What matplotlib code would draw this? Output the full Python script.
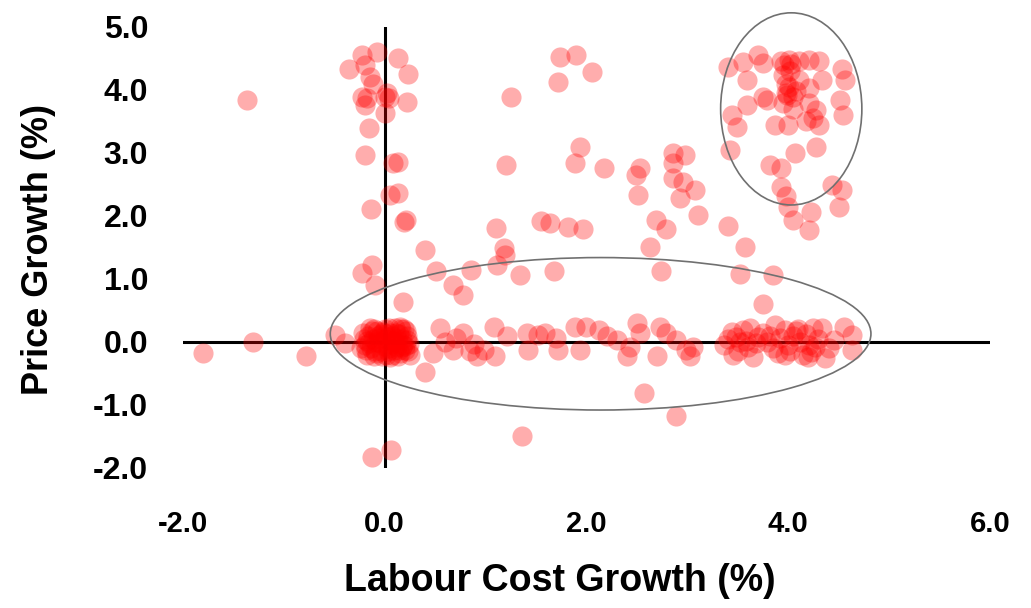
import matplotlib
matplotlib.use('Agg')
import matplotlib.pyplot as plt
from matplotlib.patches import Ellipse

# labour cost growth (x) / price growth (y)
# points along the price axis and scattered upper left
upper_x = [-1.37, -0.23, -0.08, 0.13, -0.35, -0.20, 0.23, -0.15, -0.12,
           -0.23, -0.18, 0.00, 0.04, 0.22, -0.20, 0.00, 0.02,
           -0.16, -0.20, 0.08, 0.13, 0.05, 0.13, -0.14, 0.19, 0.21, 0.40,
           -0.23, -0.13, -0.10, 0.18, 0.51, 0.68, 0.78, 0.86,
           1.11, 1.19, 1.34, 1.68, 2.63, 2.74, 3.57, 3.52, 3.85, 3.75]
upper_y = [3.84, 4.56, 4.61, 4.50, 4.33, 4.40, 4.25, 4.21, 4.10,
           3.89, 3.87, 3.89, 3.87, 3.81, 3.76, 3.63, 3.95,
           3.39, 2.97, 2.84, 2.86, 2.33, 2.37, 2.11, 1.91, 1.93, 1.46,
           1.09, 1.22, 0.90, 0.64, 1.12, 0.90, 0.75, 1.14,
           1.22, 1.38, 1.06, 1.12, 1.50, 1.12, 1.50, 1.08, 1.06, 0.60]

# negative outliers and the points left of the price axis
low_x = [0.40, -0.13, 0.06, 2.57, 2.89, 1.36, -1.80, -1.31, -0.78, -0.49, -0.39]
low_y = [-0.47, -1.82, -1.71, -0.81, -1.17, -1.49, -0.17, 0.00, -0.22, 0.11, -0.02]

# middle of the chart
mid_x = [1.74, 1.90, 2.05, 1.72, 1.25, 1.20, 1.94, 1.89, 2.17, 2.53, 2.49, 2.51,
         2.86, 2.98, 2.86, 2.86, 2.96, 3.08, 2.93, 3.11, 2.69, 2.79, 3.40,
         1.10, 1.55, 1.64, 1.82, 1.97, 1.18]
mid_y = [4.53, 4.56, 4.29, 4.13, 3.89, 2.81, 3.10, 2.84, 2.76, 2.76, 2.65, 2.33,
         3.00, 2.97, 2.84, 2.60, 2.54, 2.41, 2.28, 2.02, 1.94, 1.79, 1.84,
         1.81, 1.92, 1.89, 1.82, 1.80, 1.49]

# high labour cost / high price cluster
high_x = [3.40, 3.55, 3.70, 3.75, 3.59, 3.59, 3.75, 3.44, 3.49, 3.42, 3.82,
          3.93, 4.01, 4.11, 4.21, 4.31, 4.53, 4.56, 4.33,
          3.95, 4.01, 4.11, 3.98, 4.05, 3.95, 3.79, 4.21, 4.21, 4.28, 4.25,
          4.51, 4.54, 3.87, 4.00, 4.18, 4.31, 4.28, 4.07, 3.93, 3.93, 3.98,
          4.00, 4.05, 4.43, 4.53, 4.50, 4.23, 4.21, 3.98, 4.05,
          3.96, 4.03, 4.08, 3.99, 4.02]
high_y = [4.37, 4.45, 4.56, 4.43, 4.16, 3.76, 3.89, 3.60, 3.42, 3.05, 2.81,
          4.46, 4.47, 4.46, 4.47, 4.46, 4.34, 4.16, 4.16,
          4.24, 4.05, 4.16, 3.95, 3.89, 3.79, 3.84, 4.03, 3.79, 3.68, 3.55,
          3.84, 3.60, 3.44, 3.44, 3.50, 3.44, 3.10, 3.00, 2.76, 2.46, 2.31,
          2.15, 1.94, 2.49, 2.41, 2.15, 2.07, 1.78, 4.10, 3.70,
          4.40, 4.42, 3.98, 3.92, 4.30]

# points around zero price growth
band_x = [-0.22, -0.20, -0.18, -0.15, -0.12, -0.10, -0.08, -0.05, -0.03, 0.00,
          0.02, 0.03, 0.05, 0.07, 0.08, 0.10, 0.12, 0.14, 0.15, 0.17,
          0.19, 0.20, 0.22, 0.24, 0.25, -0.21, -0.17, -0.14, -0.11, -0.07,
          -0.04, -0.01, 0.01, 0.04, 0.06, 0.09, 0.11, 0.13, 0.16, 0.18,
          0.21, 0.23, -0.19, -0.09, 0.00,
          -0.16, -0.06, 0.03, 0.10, 0.17, -0.13, -0.02, 0.07, 0.14, 0.22,
          -0.24, -0.18, -0.09, 0.01, 0.12, 0.20, -0.11, 0.05, 0.15, -0.04,
          0.55, 0.48, 0.71, 0.68, 0.88, 0.91, 0.60, 0.78, 0.85,
          0.98, 1.08, 1.09, 1.21, 1.41, 1.42, 1.52, 1.59, 1.70, 1.72,
          1.89, 1.94, 2.00, 2.12, 2.20, 2.30, 2.40, 2.43, 2.50, 2.53,
          2.73, 2.79, 2.70, 2.89, 2.99, 3.06, 3.03,
          3.44, 3.55, 3.62, 3.87, 3.97, 4.25, 4.33, 4.55, 4.63,
          3.45, 3.65, 3.90, 3.97, 4.23, 4.36, 4.63,
          3.52, 3.79, 4.12, 4.21, 4.45, 3.40, 3.60, 3.70, 3.85,
          4.05, 4.00, 4.15, 4.30, 3.50, 3.75, 4.10, 4.40, 3.36,
          3.48, 3.68, 3.92, 4.18, 4.27, 3.58, 3.82, 4.02, 4.08, 4.20]
band_y = [0.15, -0.05, -0.20, 0.22, 0.05, -0.15, 0.18, -0.02, -0.22, 0.20,
          0.08, -0.10, 0.15, -0.20, 0.02, 0.22, -0.08, 0.12, -0.18, 0.05,
          0.20, -0.12, 0.10, -0.03, -0.20, 0.05, 0.10, -0.10, -0.23, 0.10,
          0.12, -0.06, -0.20, 0.22, -0.03, -0.13, 0.14, -0.22, 0.20, -0.04,
          0.18, -0.15, -0.12, 0.00, 0.05,
          -0.02, 0.06, -0.14, 0.00, -0.08, 0.18, 0.16, 0.10, -0.12, 0.03,
          -0.10, 0.02, -0.18, 0.12, 0.04, -0.06, 0.20, -0.24, 0.24, -0.15,
          0.22, -0.18, 0.06, -0.13, -0.03, -0.23, 0.00, 0.15, -0.15,
          -0.13, 0.24, -0.23, 0.09, 0.14, -0.13, 0.11, 0.14, 0.06, -0.13,
          0.24, -0.13, 0.24, 0.19, 0.09, 0.03, -0.23, -0.08, 0.30, 0.14,
          0.24, 0.14, -0.23, 0.03, -0.13, -0.08, -0.23,
          0.16, 0.19, 0.22, 0.27, 0.19, 0.22, 0.22, 0.24, 0.11,
          -0.21, -0.24, -0.18, -0.21, -0.16, -0.26, -0.13,
          0.00, 0.00, 0.00, -0.05, 0.03, 0.05, -0.08, 0.08, -0.10,
          0.10, -0.05, -0.20, 0.05, -0.15, 0.15, 0.20, -0.10, -0.05,
          0.08, -0.02, 0.06, 0.12, -0.08, 0.02, 0.10, -0.14, 0.18, -0.24]

xticks = [-2.0, 0.0, 2.0, 4.0, 6.0]
yticks = [-2.0, -1.0, 0.0, 1.0, 2.0, 3.0, 4.0, 5.0]

fig = plt.figure(figsize=(10.31, 6.08), dpi=100)
ax = fig.add_axes([0.1775, 0.2303, 0.7827, 0.7253])

all_x = upper_x + low_x + mid_x + high_x + band_x
all_y = upper_y + low_y + mid_y + high_y + band_y
ax.scatter(all_x, all_y, s=210, color='red', alpha=0.32, linewidths=0, zorder=3)

#  axes crossing at zero
ax.axhline(0, color='black', lw=2.2, zorder=2)
ax.axvline(0, color='black', lw=2.2, zorder=2)

#  circled groups
ax.add_patch(Ellipse((4.03, 3.70), 1.40, 3.05, fill=False, ec='#707070', lw=1.2, clip_on=False, zorder=4))
ax.add_patch(Ellipse((2.14, 0.13), 5.36, 2.42, fill=False, ec='#707070', lw=1.2, clip_on=False, zorder=4))

ax.set_xlim(-2, 6)
ax.set_ylim(-2, 5)
for s in ax.spines.values():
    s.set_visible(False)

font = ['Liberation Sans', 'DejaVu Sans']

ax.set_xticks(xticks)
ax.set_yticks(yticks)
ax.set_xticklabels(['%.1f' % v for v in xticks], family=font, fontweight='bold', fontsize=21)
ax.set_yticklabels(['%.1f' % v for v in yticks], family=font, fontweight='bold', fontsize=23)
ax.tick_params(axis='x', length=0, pad=30)
ax.tick_params(axis='y', length=0, pad=25)

fig.text(0.543, 0.045, 'Labour Cost Growth (%)', ha='center', va='center',
         family=font, fontweight='bold', fontsize=27)
fig.text(0.037, 0.590, 'Price Growth (%)', ha='center', va='center', rotation=90,
         family=font, fontweight='bold', fontsize=26)

plt.savefig('out.png')
